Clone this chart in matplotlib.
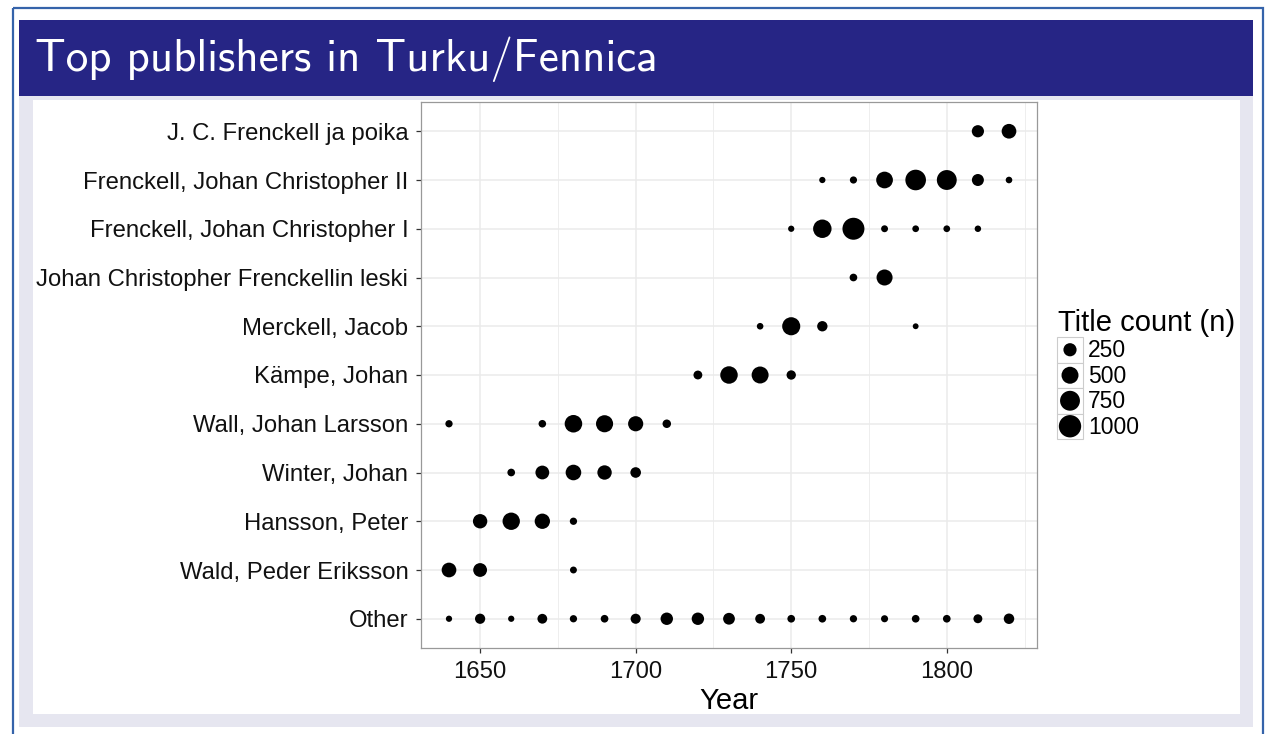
"""Top publishers in Turku/Fennica - title count per decade, slide-style figure."""

import matplotlib.pyplot as plt
from matplotlib.patches import Rectangle
import numpy as np

# ---------------------------------------------------------------------------
# DATA
# ---------------------------------------------------------------------------
PUBLISHERS = [
    "Other",
    "Wald, Peder Eriksson",
    "Hansson, Peter",
    "Winter, Johan",
    "Wall, Johan Larsson",
    "Kämpe, Johan",
    "Merckell, Jacob",
    "Johan Christopher Frenckellin leski",
    "Frenckell, Johan Christopher I",
    "Frenckell, Johan Christopher II",
    "J. C. Frenckell ja poika",
]

other_years = [1640, 1650, 1660, 1670, 1680, 1690, 1700, 1710, 1720, 1730,
               1740, 1750, 1760, 1770, 1780, 1790, 1800, 1810, 1820]
other_n = [15, 115, 15, 100, 32, 40, 110, 210, 210, 180,
           100, 40, 40, 32, 28, 40, 40, 72, 125]

wald_years = [1640, 1650, 1680]
wald_n = [340, 285, 25]

hansson_years = [1650, 1660, 1670, 1680]
hansson_n = [320, 530, 380, 32]

winter_years = [1660, 1670, 1680, 1690, 1700]
winter_n = [40, 285, 400, 320, 130]

wall_years = [1640, 1670, 1680, 1690, 1700, 1710]
wall_n = [32, 38, 545, 510, 370, 60]

kampe_years = [1720, 1730, 1740, 1750]
kampe_n = [70, 540, 500, 85]

merckell_years = [1740, 1750, 1760, 1790]
merckell_n = [20, 590, 120, 10]

leski_years = [1770, 1780]
leski_n = [40, 430]

jc1_years = [1750, 1760, 1770, 1780, 1790, 1800, 1810]
jc1_n = [15, 620, 960, 25, 22, 22, 18]

jc2_years = [1760, 1770, 1780, 1790, 1800, 1810, 1820]
jc2_n = [15, 30, 480, 820, 750, 190, 20]

poika_years = [1810, 1820]
poika_n = [200, 340]

SERIES = [
    (other_years, other_n),
    (wald_years, wald_n),
    (hansson_years, hansson_n),
    (winter_years, winter_n),
    (wall_years, wall_n),
    (kampe_years, kampe_n),
    (merckell_years, merckell_n),
    (leski_years, leski_n),
    (jc1_years, jc1_n),
    (jc2_years, jc2_n),
    (poika_years, poika_n),
]

LEGEND_BREAKS = [250, 500, 750, 1000]
X_TICKS = [1650, 1700, 1750, 1800]
X_MINOR = [1675, 1725, 1775, 1825]

# ---------------------------------------------------------------------------
# STYLE
# ---------------------------------------------------------------------------
W, H, DPI = 1268, 734, 100
FONT = ["Liberation Sans", "DejaVu Sans"]
NAVY = "#262585"
BORDER_BLUE = "#3563aa"
LAVENDER = "#e6e6f0"
GRID = "#ebebeb"


def _marker_area(n):
    """Point area (pt^2) from title count: diameter grows with sqrt(n)."""
    d_px = 4.0 + 0.58 * np.sqrt(np.asarray(n, dtype=float))
    return (d_px * 72.0 / DPI) ** 2


def main() -> None:
    plt.rcParams["font.family"] = FONT

    fig = plt.figure(figsize=(W / DPI, H / DPI), dpi=DPI)

    # background "slide" drawn in pixel coordinates
    bg = fig.add_axes([0, 0, 1, 1], zorder=0)
    bg.set_xlim(0, W)
    bg.set_ylim(H, 0)
    bg.axis("off")

    bg.add_patch(Rectangle((13, 8), 1250, 760, facecolor="none",
                           edgecolor=BORDER_BLUE, linewidth=1.6))
    bg.add_patch(Rectangle((19, 20), 1234, 76, facecolor=NAVY, edgecolor="none"))
    bg.add_patch(Rectangle((19, 96), 1234, 631, facecolor=LAVENDER, edgecolor="none"))
    bg.add_patch(Rectangle((33, 100), 1207, 614, facecolor="white", edgecolor="none"))

    bg.text(35, 71, "Top publishers in Turku/Fennica", color="white",
            fontsize=32.5, family="cmss10", va="baseline", ha="left")

    # main panel
    ax = fig.add_axes([421 / W, 1 - 648 / H, (1037 - 421) / W, (648 - 102) / H],
                      zorder=1)
    for i, (yrs, ns) in enumerate(SERIES):
        ax.scatter(yrs, [i] * len(yrs), s=_marker_area(ns), color="black",
                   edgecolors="none", zorder=3)

    ax.set_xlim(1631, 1829)
    ax.set_ylim(-0.6, len(PUBLISHERS) - 0.4)
    ax.set_xticks(X_TICKS)
    ax.set_xticklabels([str(v) for v in X_TICKS])
    ax.set_xticks(X_MINOR, minor=True)
    ax.set_yticks(range(len(PUBLISHERS)))
    ax.set_yticklabels(PUBLISHERS)

    ax.grid(which="major", color=GRID, linewidth=1.1, zorder=0)
    ax.grid(which="minor", axis="x", color=GRID, linewidth=0.6, zorder=0)
    ax.set_axisbelow(True)
    ax.tick_params(which="major", length=3.6, width=0.9, color="#333333",
                   labelsize=17.2, labelcolor="#111111", pad=5.5)
    ax.tick_params(which="minor", length=0)
    for sp in ax.spines.values():
        sp.set_color("#999999")
        sp.set_linewidth(0.9)

    ax.set_xlabel("Year", fontsize=21, labelpad=3)

    # size legend
    bg.text(1058, 331, "Title count (n)", fontsize=21, va="baseline", ha="left")
    key_top, key_h = 337, 25.5
    for k, brk in enumerate(LEGEND_BREAKS):
        y0 = key_top + k * key_h
        bg.add_patch(Rectangle((1057, y0), 26, key_h, facecolor="white",
                               edgecolor="#cccccc", linewidth=0.8))
        bg.scatter([1070], [y0 + key_h / 2], s=_marker_area([brk]),
                   color="black", edgecolors="none")
        bg.text(1088, y0 + key_h / 2 + 1, f"{brk}", fontsize=16.5,
                va="center", ha="left")

    fig.savefig("out.png", dpi=DPI)


if __name__ == "__main__":
    main()
